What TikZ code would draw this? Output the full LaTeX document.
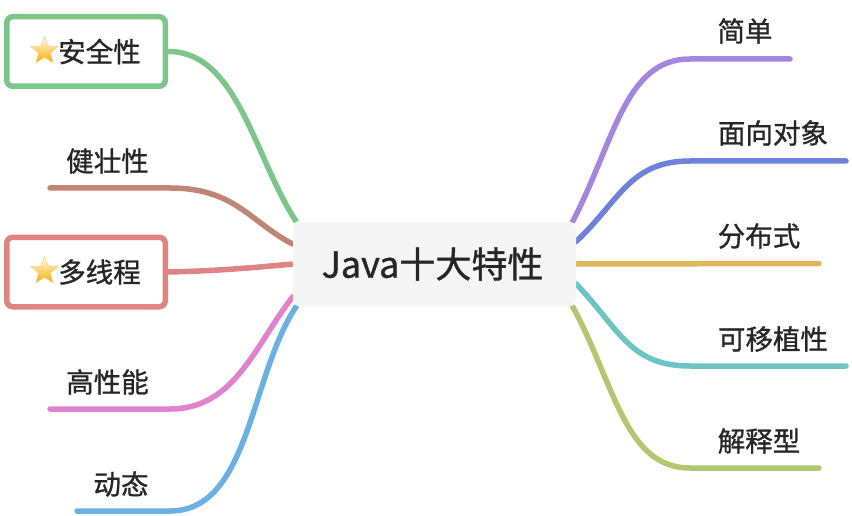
\documentclass[tikz,border=0pt]{standalone}
\usepackage{fontspec}
\setmainfont[FakeBold=1]{Noto Sans CJK SC}
\usetikzlibrary{shapes.geometric,backgrounds,shadings}
\definecolor{cgreen}{HTML}{7CC68A}
\definecolor{cbrown}{HTML}{C08573}
\definecolor{cred}{HTML}{E08383}
\definecolor{cpink}{HTML}{E082D0}
\definecolor{cblue}{HTML}{6AB0E3}
\definecolor{cpurple}{HTML}{A387DF}
\definecolor{cindigo}{HTML}{6F82DA}
\definecolor{cyellow}{HTML}{DFB65A}
\definecolor{cteal}{HTML}{6CC4C4}
\definecolor{colive}{HTML}{B2C76F}
\definecolor{ink}{HTML}{262626}
\definecolor{hub}{HTML}{F5F5F5}
\definecolor{starline}{HTML}{F5D27A}
\definecolor{startop}{HTML}{FFFDF0}
\definecolor{starbot}{HTML}{F9AE00}
\tikzset{
  conn/.style={line width=5.5pt,line cap=round},
  lab/.style={font=\fontsize{27.5}{30}\selectfont,text=ink,inner sep=0pt,anchor=center},
  hubnode/.style={fill=hub,rounded corners=5pt,minimum width=283pt,minimum height=84pt,inner sep=0pt,font=\fontsize{36}{40}\selectfont,text=ink},
  boxnode/.style={draw=#1,fill=white,line width=5.5pt,rounded corners=6pt,minimum width=158.5pt,minimum height=69.5pt,inner sep=0pt,font=\fontsize{27.5}{30}\selectfont,text=ink},
  starnode/.style={star,star points=5,star point ratio=2.3,minimum size=29pt,inner sep=0pt,draw=starline,line width=0.5pt,top color=startop,bottom color=starbot}
}
\begin{document}
\begin{tikzpicture}[x=1pt,y=-1pt]
\useasboundingbox (0,0) rectangle (852,516);
\node[hubnode] (c) at (434.5,264) {Java十大特性\hspace*{4pt}};
\node[boxnode=cgreen] (safe) at (86,51.5) {\hspace*{27pt}安全性};
\node[boxnode=cred] (multi) at (86,272) {\hspace*{27pt}多线程};
\node[starnode] (s1) at (44.5,51) {};
\node[starnode] (s2) at (44.5,271) {};
\node[lab] (robust) at (107.5,161) {健壮性};
\node[lab] (perf) at (107.5,382) {高性能};
\node[lab] (dyn) at (121,484) {动态};
\node[lab] (simple) at (745,31) {简单};
\node[lab] (oo) at (773,133) {面向对象};
\node[lab] (dist) at (759,236) {分布式};
\node[lab] (port) at (773,339) {可移植性};
\node[lab] (interp) at (759,441) {解释型};
\coordinate (e1) at (50,188);
\coordinate (e2) at (50,409);
\coordinate (e3) at (77,511);
\coordinate (e4) at (790,59);
\coordinate (e5) at (846,161);
\coordinate (e6) at (819,263.5);
\coordinate (e7) at (846,366);
\coordinate (e8) at (819,468);
\begin{pgfonlayer}{background}
\draw[conn,cgreen,line cap=butt] (safe.east) .. controls (238,51) and (255,160) .. (c.163);
\draw[conn,cbrown] (e1) -- (170,188) .. controls (235,188) and (250,222) .. (c.172);
\draw[conn,cred,line cap=butt] (multi.east) .. controls (215,271) and (250,268) .. (c.180);
\draw[conn,cpink] (e2) -- (170,409) .. controls (235,409) and (255,345) .. (c.193);
\draw[conn,cblue] (e3) -- (170,511) .. controls (250,511) and (250,375) .. (c.197);
\draw[conn,cpurple] (e4) -- (690,59) .. controls (625,59) and (615,140) .. (c.17);
\draw[conn,cindigo] (e5) -- (690,161) .. controls (630,161) and (620,200) .. (c.9);
\draw[conn,cyellow] (e6) -- (c.0);
\draw[conn,cteal] (e7) -- (690,366) .. controls (630,366) and (620,330) .. (c.-8);
\draw[conn,colive] (e8) -- (690,468) .. controls (625,468) and (615,385) .. (c.-17);
\end{pgfonlayer}
\end{tikzpicture}
\end{document}
